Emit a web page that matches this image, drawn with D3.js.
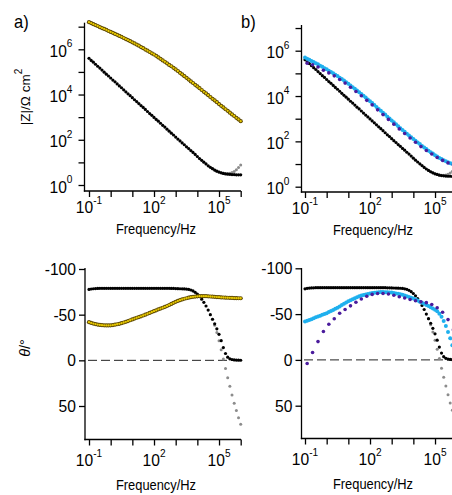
<!DOCTYPE html>
<html><head><meta charset="utf-8">
<script src="https://cdn.jsdelivr.net/npm/d3@7"></script>
<style>html,body{margin:0;padding:0;background:#fff;} svg{display:block;}</style>
</head><body><svg id="c" width="452" height="495"></svg>
<script>
// ---------------- DATA ----------------
const FREQ_EXP = [-1.0,-0.9,-0.8,-0.7,-0.6,-0.5,-0.4,-0.3,-0.2,-0.1,0.0,0.1,0.2,0.3,0.4,0.5,0.6,0.7,0.8,0.9,1.0,1.1,1.2,1.3,1.4,1.5,1.6,1.7,1.8,1.9,2.0,2.1,2.2,2.3,2.4,2.5,2.6,2.7,2.8,2.9,3.0,3.1,3.2,3.3,3.4,3.5,3.6,3.7,3.8,3.9,4.0,4.1,4.2,4.3,4.4,4.5,4.6,4.7,4.8,4.9,5.0,5.1,5.2,5.3,5.4,5.5,5.6,5.7,5.8,5.9,6.0];

// black series: log10 |Z| and phase (deg)
const BLACK_LOGZ = [5.60,5.51,5.43,5.34,5.25,5.17,5.08,4.99,4.90,4.82,4.73,
  4.64,4.56,4.47,4.38,4.30,4.21,4.12,4.03,3.95,3.86,
  3.77,3.69,3.60,3.51,3.43,3.34,3.25,3.16,3.08,2.99,
  2.90,2.82,2.73,2.64,2.56,2.47,2.38,2.29,2.21,2.12,
  2.03,1.95,1.86,1.78,1.69,1.61,1.52,1.44,1.35,1.26,
  1.17,1.09,1.01,0.93,0.85,0.78,0.72,0.66,0.61,0.57,
  0.54,0.51,0.49,0.48,0.47,0.46,0.46,0.45,0.45,0.45];
const BLACK_PHASE = [-77.6,-78.1,-78.4,-78.6,-78.7,-78.8,-78.8,-78.8,-78.8,-78.8,-78.8,
  -78.8,-78.8,-78.8,-78.8,-78.8,-78.8,-78.8,-78.8,-78.8,-78.8,
  -78.8,-78.8,-78.8,-78.8,-78.8,-78.8,-78.8,-78.8,-78.8,-78.8,
  -78.8,-78.8,-78.8,-78.8,-78.8,-78.8,-78.8,-78.7,-78.7,-78.6,
  -78.5,-78.4,-78.3,-78.2,-78.0,-77.6,-77.0,-76.0,-74.5,-72.5,
  -70.0,-67.0,-63.5,-59.5,-55.0,-50.0,-45.0,-40.0,-34.5,-28.5,
  -21.5,-14.0,-7.5,-3.5,-1.7,-0.9,-0.5,-0.3,-0.2,-0.1];

// gray series (only visible where it leaves the black one)
const GRAY_FREQ_EXP = [4.7,4.8,4.9,5.0,5.1,5.2,5.3,5.4,5.5,5.6,5.7,5.8,5.9,6.0];
const GRAY_LOGZ = [0.72,0.66,0.61,0.57,0.54,0.52,0.51,0.51,0.52,0.55,0.60,0.67,0.77,0.88];
const GRAY_PHASE = [-45,-38.5,-30.5,-21.5,-11.5,-1.5,9,19,28.5,38,47,55,63,70];

// gold series (panel a)
const GOLD_LOGZ = [7.20,7.16,7.11,7.07,7.03,6.98,6.94,6.90,6.86,6.81,6.77,
  6.73,6.68,6.64,6.59,6.55,6.50,6.45,6.41,6.36,6.31,
  6.26,6.21,6.16,6.10,6.05,5.99,5.94,5.88,5.82,5.77,
  5.71,5.64,5.58,5.51,5.45,5.38,5.31,5.25,5.18,5.11,
  5.04,4.96,4.89,4.81,4.74,4.66,4.58,4.51,4.43,4.36,
  4.28,4.20,4.12,4.05,3.97,3.89,3.81,3.74,3.66,3.58,
  3.50,3.43,3.35,3.28,3.20,3.12,3.05,2.97,2.90,2.82];
const GOLD_PHASE = [-41.8,-41.0,-40.3,-39.7,-39.2,-38.8,-38.5,-38.3,-38.2,-38.2,-38.3,
  -38.6,-39.0,-39.5,-40.0,-40.7,-41.4,-42.2,-43.0,-43.9,-44.8,
  -45.7,-46.6,-47.4,-48.2,-49.1,-50.0,-51.0,-51.9,-52.9,-53.8,
  -54.8,-55.8,-56.7,-57.6,-58.5,-59.5,-60.6,-61.8,-63.0,-64.1,
  -65.0,-65.9,-66.7,-67.4,-68.0,-68.6,-69.1,-69.5,-69.8,-70.1,
  -70.2,-70.3,-70.3,-70.2,-70.1,-69.9,-69.7,-69.5,-69.3,-69.1,
  -68.9,-68.8,-68.6,-68.5,-68.4,-68.3,-68.2,-68.1,-68.0,-68.0];

// blue series (panel b), 10^-1 .. 10^5.8 Hz
const BLUE_LOGZ = [5.70,5.65,5.60,5.55,5.50,5.45,5.40,5.34,5.29,5.23,5.18,
  5.12,5.06,5.00,4.94,4.88,4.81,4.75,4.68,4.61,4.54,
  4.47,4.39,4.32,4.24,4.17,4.09,4.01,3.93,3.85,3.77,
  3.69,3.60,3.52,3.43,3.35,3.26,3.18,3.09,3.01,2.92,
  2.84,2.75,2.67,2.58,2.50,2.42,2.34,2.26,2.18,2.10,
  2.03,1.95,1.88,1.80,1.73,1.66,1.59,1.52,1.46,1.39,
  1.33,1.27,1.22,1.17,1.12,1.08,1.04,1.01];
const BLUE_PHASE = [-42.0,-42.8,-43.6,-44.5,-45.5,-46.5,-47.3,-48.2,-49.2,-50.0,-51.0,
  -52.2,-53.4,-54.6,-55.8,-57.0,-58.4,-59.8,-61.2,-62.6,-64.0,
  -65.2,-66.3,-67.4,-68.5,-69.5,-70.2,-70.8,-71.4,-72.0,-72.5,
  -72.9,-73.3,-73.6,-73.8,-74.0,-74.0,-73.9,-73.8,-73.7,-73.5,
  -73.1,-72.6,-72.1,-71.6,-71.0,-70.3,-69.5,-68.7,-67.9,-67.0,
  -66.0,-64.8,-63.6,-62.4,-61.2,-60.0,-58.8,-57.5,-56.2,-54.8,
  -53.0,-50.5,-47.0,-42.5,-37.0,-30.5,-23.5,-16.0];

// purple series (panel b), sparser points
const PURPLE_FREQ_EXP = [-0.90,-0.65,-0.40,-0.15,0.10,0.35,0.60,0.85,1.10,1.35,1.60,1.85,2.10,2.35,2.60,2.85,3.10,3.35,3.60,3.85,4.10,4.35,4.60,4.85,5.10,5.35,5.60,5.85];
const PURPLE_LOGZ = [5.45,5.38,5.28,5.14,5.02,4.89,4.73,4.57,4.39,4.20,4.01,3.81,3.61,3.39,3.18,2.97,2.76,2.55,2.35,2.15,1.96,1.77,1.60,1.44,1.29,1.16,1.05,0.97];
const PURPLE_PHASE = [4,-8,-20,-31,-39,-45,-51,-55,-59,-63,-66.5,-69.5,-71.5,-72.5,-72.5,-72,-70.5,-69,-67.5,-66,-64.5,-63.5,-62.5,-60.5,-57,-52,-44,-33];

// ticks
const F_TICK_EXP = [-1,0,1,2,3,4,5,6];
const F_LABEL_EXP = [-1,2,5];
const Z_TICK_EXP = [0,1,2,3,4,5,6,7];
const Z_LABEL_EXP = [0,2,4,6];
const PHASE_TICKS = [-100,-50,0,50];

// ---------------- DRAWING ----------------
const svg = d3.select('#c');
const FONT = '"Liberation Sans", Arial, Helvetica, sans-serif';
const SQ = 0.92;
const AX_W = 1.3;
const pw = e => Math.pow(10, e);

function zip(fx, vals, conv) { return vals.map((v, i) => ({f: pw(fx[i]), v: conv ? conv(v) : v})); }

function squeezedText(parent, x, y, anchor, size) {
  const g = parent.append('g').attr('transform', `translate(${x},${y}) scale(${SQ},1)`);
  return g.append('text').attr('text-anchor', anchor).attr('font-family', FONT)
    .attr('font-size', size).attr('fill', '#000');
}
function powLabel(parent, x, y, exp, anchor) {
  const t = squeezedText(parent, x, y, anchor, 17);
  t.append('tspan').text('10');
  t.append('tspan').attr('dy', -9.5).attr('font-size', 11).text(String(exp));
}

function panel(cfg) {
  const g = svg.append('g');
  const x = d3.scaleLog().domain([pw(-1), pw(6)]).range([cfg.x0, cfg.x0 + 7 * 21.67]);
  const y = cfg.log
    ? d3.scaleLog().domain([pw(0), pw(6)]).range(cfg.yr)
    : d3.scaleLinear().domain([-100, 50]).range(cfg.yr);

  // x axis
  const xa = g.append('g').attr('transform', `translate(0,${cfg.axY})`)
    .call(d3.axisBottom(x).tickValues(F_TICK_EXP.map(pw)).tickSize(6).tickFormat(''));
  xa.select('.domain').remove();
  xa.selectAll('line').attr('stroke', '#000').attr('stroke-width', AX_W);
  g.append('line').attr('x1', cfg.axX - 0.65).attr('x2', cfg.xEnd).attr('y1', cfg.axY).attr('y2', cfg.axY)
    .attr('stroke', '#000').attr('stroke-width', AX_W);
  F_LABEL_EXP.forEach(e => powLabel(g, x(pw(e)), cfg.axY + cfg.xlabOff, e, 'middle'));
  squeezedText(g, cfg.titleX, cfg.axY + cfg.titleOff, 'middle', 14).text('Frequency/Hz');

  // y axis
  const ya = g.append('g').attr('transform', `translate(${cfg.axX},0)`)
    .call((cfg.log ? d3.axisLeft(y).tickValues(Z_TICK_EXP.map(pw)) : d3.axisLeft(y).tickValues(PHASE_TICKS))
      .tickSize(6).tickFormat(''));
  ya.select('.domain').remove();
  ya.selectAll('line').attr('stroke', '#000').attr('stroke-width', AX_W);
  g.append('line').attr('x1', cfg.axX).attr('x2', cfg.axX).attr('y1', cfg.yTop).attr('y2', cfg.axY + 0.65)
    .attr('stroke', '#000').attr('stroke-width', AX_W);
  if (cfg.log) {
    Z_LABEL_EXP.forEach(e => powLabel(g, cfg.axX - 12, y(pw(e)) + 7.5, e, 'end'));
  } else {
    PHASE_TICKS.forEach(v => squeezedText(g, cfg.axX - 9, y(v) + 6, 'end', 17).text(String(v)));
    g.append('line').attr('x1', x(pw(-1)) - 1).attr('x2', cfg.xEnd).attr('y1', y(0)).attr('y2', y(0))
      .attr('stroke', '#222').attr('stroke-width', 1).attr('stroke-dasharray', '9,4');
  }

  const conv = cfg.log ? pw : null;
  function dots(data, r, fill) {
    g.append('g').selectAll('circle').data(data).join('circle')
      .attr('cx', d => x(d.f)).attr('cy', d => y(d.v)).attr('r', r).attr('fill', fill);
  }
  cfg.series.forEach(s => {
    const data = zip(s.fx, s.vals, conv);
    if (s.kind === 'gold') {
      dots(data, 2.1, '#5c4700');
      dots(data, 1.15, '#e8c900');
    } else {
      dots(data, s.r, s.color);
    }
  });
  return {x, y};
}

const C_BLACK = '#000', C_GRAY = '#8c8c8c', C_BLUE = '#1fb0ee', C_PURPLE = '#4a1b9c';

// a) |Z|
panel({log: true, x0: 89, axX: 84.5, axY: 191, yTop: 22.7, xEnd: 241, yr: [185, 49.3],
  xlabOff: 22, titleOff: 43, titleX: 156,
  series: [
    {fx: GRAY_FREQ_EXP, vals: GRAY_LOGZ, r: 1.5, color: C_GRAY},
    {fx: FREQ_EXP, vals: BLACK_LOGZ, r: 1.6, color: C_BLACK},
    {fx: FREQ_EXP, vals: GOLD_LOGZ, kind: 'gold'}
  ]});
// b) |Z|
panel({log: true, x0: 305, axX: 301.5, axY: 192, yTop: 25, xEnd: 452, yr: [186.7, 50.7],
  xlabOff: 22, titleOff: 43, titleX: 373,
  series: [
    {fx: GRAY_FREQ_EXP, vals: GRAY_LOGZ, r: 1.5, color: C_GRAY},
    {fx: FREQ_EXP, vals: BLACK_LOGZ, r: 1.6, color: C_BLACK},
    {fx: FREQ_EXP, vals: BLUE_LOGZ, r: 2.0, color: C_BLUE},
    {fx: PURPLE_FREQ_EXP, vals: PURPLE_LOGZ, r: 1.8, color: C_PURPLE}
  ]});
// a) phase
panel({log: false, x0: 89, axX: 85, axY: 439.5, yTop: 268, xEnd: 241, yr: [269, 406],
  xlabOff: 26.5, titleOff: 50, titleX: 156,
  series: [
    {fx: GRAY_FREQ_EXP, vals: GRAY_PHASE, r: 1.5, color: C_GRAY},
    {fx: FREQ_EXP, vals: BLACK_PHASE, r: 1.6, color: C_BLACK},
    {fx: FREQ_EXP, vals: GOLD_PHASE, kind: 'gold'}
  ]});
// b) phase
panel({log: false, x0: 305, axX: 301.5, axY: 438.5, yTop: 268, xEnd: 452, yr: [268.3, 405.7],
  xlabOff: 26.5, titleOff: 50.5, titleX: 373,
  series: [
    {fx: GRAY_FREQ_EXP, vals: GRAY_PHASE, r: 1.5, color: C_GRAY},
    {fx: FREQ_EXP, vals: BLACK_PHASE, r: 1.6, color: C_BLACK},
    {fx: FREQ_EXP, vals: BLUE_PHASE, r: 2.0, color: C_BLUE},
    {fx: PURPLE_FREQ_EXP, vals: PURPLE_PHASE, r: 1.8, color: C_PURPLE}
  ]});

// panel letters
squeezedText(svg, 14, 28, 'start', 18).text('a)');
squeezedText(svg, 241, 28, 'start', 18).text('b)');

// y titles
const t1 = svg.append('text').attr('transform', 'translate(29.5,97) rotate(-90)')
  .attr('text-anchor', 'middle').attr('font-family', FONT).attr('font-size', 13.5);
t1.append('tspan').text('|Z|/\u03A9 cm');
t1.append('tspan').attr('dy', -8).attr('font-size', 10).text('2');
const t2 = svg.append('text').attr('transform', 'translate(29.5,348) rotate(-90)')
  .attr('text-anchor', 'middle').attr('font-family', FONT).attr('font-size', 14.5);
t2.append('tspan').attr('font-style', 'italic').text('\u03B8');
t2.append('tspan').text('/\u00B0');
</script></body></html>
